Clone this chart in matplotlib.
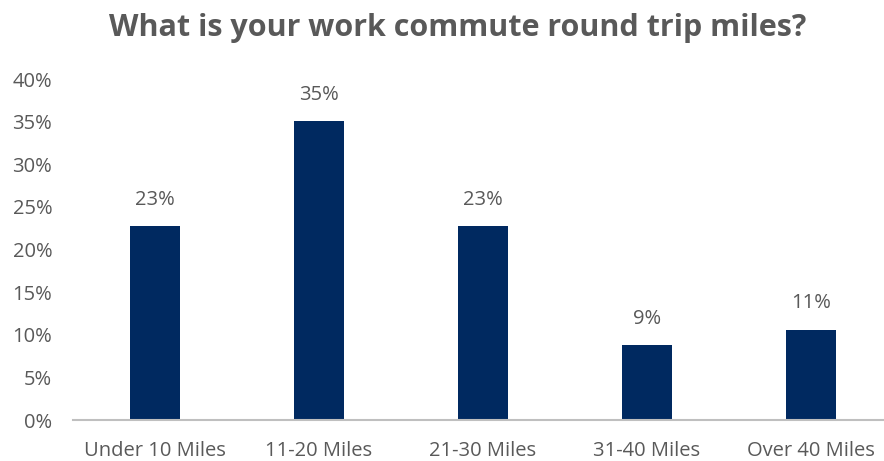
import matplotlib
matplotlib.use("Agg")
import matplotlib.pyplot as plt
from matplotlib.ticker import PercentFormatter

categories = ["Under 10 Miles", "11-20 Miles", "21-30 Miles", "31-40 Miles", "Over 40 Miles"]
shares = [22.7, 35.1, 22.7, 8.8, 10.6]
labels = ["23%", "35%", "23%", "9%", "11%"]

plt.rcParams['font.family'] = ['Open Sans', 'DejaVu Sans']
gray = "#595959"

fig = plt.figure(figsize=(8.84, 4.61), dpi=100)
ax = fig.add_axes([73 / 884, 41 / 461, 820 / 884, 341 / 461])

bars = ax.bar(range(len(categories)), shares, width=0.31, color="#002960")
for b, lab in zip(bars, labels):
    ax.text(b.get_x() + b.get_width() / 2, b.get_height() + 1.9, lab,
            ha="center", va="bottom", fontsize=14.5, color=gray)

ax.set_xlim(-0.5, 4.5)
ax.set_ylim(0, 40)
ax.set_yticks(range(0, 41, 5))
ax.yaxis.set_major_formatter(PercentFormatter(decimals=0))
ax.set_xticks(range(len(categories)))
ax.set_xticklabels(categories)
ax.tick_params(axis="both", length=0, labelsize=14.5, labelcolor=gray)
ax.tick_params(axis="x", pad=15)
ax.tick_params(axis="y", pad=15)
for s in ["top", "right", "left"]:
    ax.spines[s].set_visible(False)
ax.spines["bottom"].set_color("#bfbfbf")
ax.spines["bottom"].set_linewidth(1.5)

fig.text(0.518, 0.94, "What is your work commute round trip miles?",
         ha="center", va="center", fontsize=22, fontweight="bold", color=gray)

fig.savefig("out.png", dpi=100)
